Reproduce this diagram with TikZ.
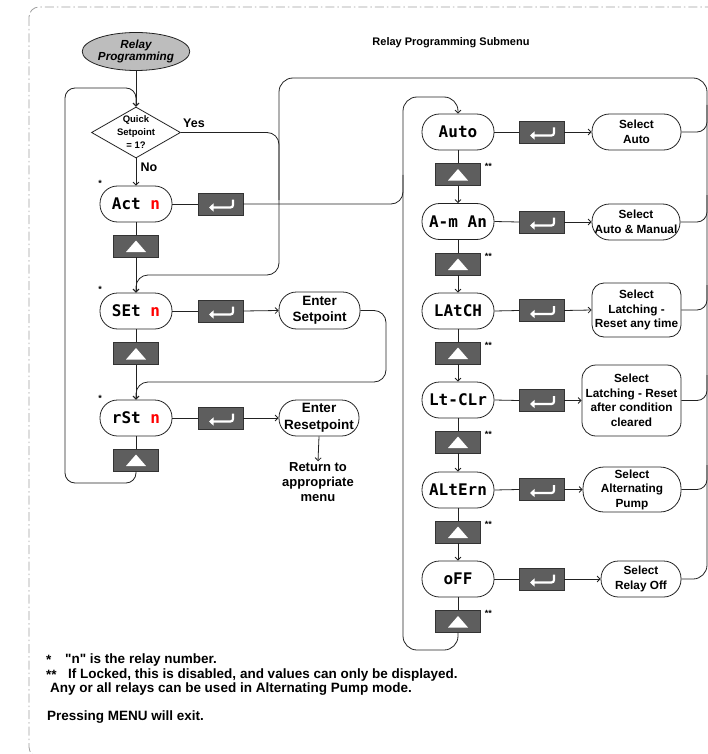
\documentclass[tikz,border=0pt]{standalone}
\usepackage{fontspec}
\setmainfont{Liberation Sans}
\newfontfamily\dispfont{DejaVu Sans Mono}
\usetikzlibrary{arrows.meta,shapes.geometric,calc}
\definecolor{btngray}{HTML}{5E5E5E}
\definecolor{linec}{HTML}{222222}
\definecolor{brd}{HTML}{A0A0A0}
\definecolor{ellg}{HTML}{BDBDBD}
\tikzset{
 ln/.style={draw=linec, line width=0.8pt},
 arr/.style={ln, -{Straight Barb[length=3pt,width=6pt]}},
 disp/.style={draw=linec, line width=0.8pt, rectangle, rounded corners=17.5pt, minimum width=72pt, minimum height=36pt, inner sep=0pt, font=\dispfont\bfseries\fontsize{16}{18}\selectfont},
 btn/.style={draw=black!80, fill=btngray, minimum width=45pt, minimum height=22pt, inner sep=0pt},
 upbtn/.style={btn, path picture={\fill[white] ([xshift=-10pt,yshift=-6pt]path picture bounding box.center) -- ++(20pt,0pt) -- ++(-10pt,11.5pt) -- cycle;}},
 entbtn/.style={btn, path picture={\draw[white, line width=2.2pt, rounded corners=2.5pt, -{Triangle[length=4.5pt,width=8pt]}] ([xshift=12.5pt,yshift=4.5pt]path picture bounding box.center) -- ++(0pt,-8pt) -- ++(-24pt,0pt);}},
 sel/.style={draw=linec, line width=0.8pt, rectangle, rounded corners=17.5pt, minimum height=36pt, inner sep=1pt, align=center, font=\bfseries\fontsize{11.8}{14.5}\selectfont},
 entr/.style={sel, font=\bfseries\fontsize{13.5}{16.5}\selectfont},
 lbl/.style={font=\bfseries\fontsize{12.5}{14}\selectfont, inner sep=0pt},
 stf/.style={font=\bfseries\fontsize{9}{10}\selectfont, inner sep=0pt},
 fn/.style={font=\bfseries\fontsize{13.5}{15}\selectfont, inner sep=0pt, anchor=west},
}
\begin{document}
\begin{tikzpicture}[x=1pt,y=-1pt]
\useasboundingbox (0,0) rectangle (708,754);
\draw[brd, line width=0.8pt, dash pattern=on 9pt off 3pt on 1.5pt off 3pt, rounded corners=10pt] (29,7) rectangle (722,757);

\node[font=\bfseries\fontsize{11}{13}\selectfont] (title) at (451,43) {Relay Programming Submenu};

% left column
\node[ellipse, draw=linec, line width=0.8pt, fill=ellg, minimum width=107pt, minimum height=38pt, inner sep=0pt, align=center, font=\bfseries\itshape\fontsize{11.7}{12.5}\selectfont] (rp) at (136,51.5) {Relay\\Programming};
\node[diamond, draw=linec, line width=0.8pt, minimum width=89pt, minimum height=51pt, inner sep=0pt] (q) at (136,132.5) {};
\node[align=center, inner sep=0pt, font=\bfseries\fontsize{9.5}{13}\selectfont] (qt) at (136,132) {Quick\\Setpoint\\= 1?};
\node[lbl] (yes) at (194,123) {Yes};
\node[lbl] (no) at (149,167) {No};

\node[disp] (act) at (136,204) {Act \textcolor{red}{n}};
\node[entbtn] (e1) at (220.5,204) {};
\node[upbtn] (u1) at (136,246) {};
\node[disp] (set) at (136,311) {SEt \textcolor{red}{n}};
\node[entbtn] (e2) at (220.5,311) {};
\node[entr, minimum width=81pt, minimum height=37pt] (es) at (319.5,310.5) {Enter\\Setpoint};
\node[upbtn] (u2) at (136,353.5) {};
\node[disp] (rst) at (136,418) {rSt \textcolor{red}{n}};
\node[entbtn] (e3) at (220.5,418) {};
\node[entr, minimum width=80pt] (er) at (319,418) {Enter\\Resetpoint};
\node[upbtn] (u3) at (136,460) {};
\node[align=center, inner sep=1pt, font=\bfseries\fontsize{13}{15}\selectfont] (ret) at (318,482) {Return to\\appropriate\\menu};

\node[stf] (st1) at (100,183) {*};
\node[stf] (st2) at (100,289) {*};
\node[stf] (st3) at (100,398) {*};

% right column
\node[disp] (auto) at (458,132) {Auto};
\node[entbtn] (e4) at (541.5,132) {};
\node[sel, minimum width=89pt] (s1) at (636.5,132) {Select\\Auto};
\node[upbtn] (u4) at (458,174.5) {};
\node[disp] (am) at (458,221.5) {A-m An};
\node[entbtn] (e5) at (541.5,222) {};
\node[sel, minimum width=88pt] (s2) at (636,222) {Select\\Auto \& Manual};
\node[upbtn] (u5) at (458,264) {};
\node[disp] (latch) at (458,311) {LAtCH};
\node[entbtn] (e6) at (541.5,310.5) {};
\node[sel, rounded corners=12pt, minimum width=89pt, minimum height=54pt] (s3) at (636.5,310) {Select\\Latching -\\Reset any time};
\node[upbtn] (u6) at (458,353) {};
\node[disp] (ltclr) at (458,400) {Lt-CLr};
\node[entbtn] (e7) at (541.5,400.5) {};
\node[sel, rounded corners=14pt, minimum width=99pt, minimum height=71pt] (s4) at (631.5,400.5) {Select\\Latching - Reset\\after condition\\cleared};
\node[upbtn] (u7) at (458,442) {};
\node[disp] (alt) at (458,490) {ALtErn};
\node[entbtn] (e8) at (541.5,489.5) {};
\node[sel, rounded corners=21pt, minimum width=98pt, minimum height=45pt] (s5) at (632,489.5) {Select\\Alternating\\Pump};
\node[upbtn] (u8) at (458,532) {};
\node[disp] (off) at (458,579) {oFF};
\node[entbtn] (e9) at (541.5,579) {};
\node[sel, minimum width=80pt] (s6) at (641,579) {Select\\Relay Off};
\node[upbtn] (u9) at (458,621.5) {};

\foreach \u in {u4,u5,u6,u7,u8,u9}{
  \node[stf, anchor=north west] (ds\u) at ($(\u.north east)+(4,0)$) {**};
}

% footnotes
\node[fn] (f1a) at (46,660) {*};
\node[fn] (f1b) at (65,660) {{\addfontfeature{Ligatures=TeXOff}"n"} is the relay number.};
\node[fn] (f2a) at (46,675) {**};
\node[fn] (f2b) at (68,675) {If Locked, this is disabled, and values can only be displayed.};
\node[fn] (f3) at (50,689) {Any or all relays can be used in Alternating Pump mode.};
\node[fn] (f4) at (47,717) {Pressing MENU will exit.};

% connectors left
\draw[arr] (rp.south) -- (q.north);
\draw[arr] (q.south) -- (act.north);
\draw[ln] (act.east) -- (e1.west);
\draw[ln, rounded corners=12pt] (e1.east) -| (403,175);
\draw[ln] (act.south) -- (u1.north);
\draw[arr] (u1.south) -- (set.north);
\draw[arr, rounded corners=12pt] (q.east) -| (279,275) -| (set.north);
\draw[ln] (set.east) -- (e2.west);
\draw[arr] (e2.east) -- (es.west);
\draw[arr, rounded corners=12pt] (es.east) -| (386,382) -| (rst.north);
\draw[ln] (set.south) -- (u2.north);
\draw[arr] (u2.south) -- (rst.north);
\draw[ln] (rst.east) -- (e3.west);
\draw[arr] (e3.east) -- (er.west);
\draw[arr] (er.south) -- (ret.north);
\draw[ln] (rst.south) -- (u3.north);
\draw[arr, rounded corners=10pt] (u3.south) |- (65,483) |- (136,88) -- (q.north);

% connectors right
\foreach \d/\e/\s in {auto/e4/s1, am/e5/s2, latch/e6/s3, ltclr/e7/s4, alt/e8/s5, off/e9/s6}{
  \draw[ln] (\d.east) -- (\e.west);
  \draw[arr] (\e.east) -- (\s.west);
}
\foreach \d/\u/\n in {auto/u4/am, am/u5/latch, latch/u6/ltclr, ltclr/u7/alt, alt/u8/off}{
  \draw[ln] (\d.south) -- (\u.north);
  \draw[arr] (\u.south) -- (\n.north);
}
\draw[ln] (off.south) -- (u9.north);
\draw[arr, rounded corners=14pt] (u9.south) |- (403,650) -- (403,97) -| (auto.north);
\draw[ln, rounded corners=14pt] (s6.east) -| (707,78) -| (279,200);
\foreach \s/\y in {s1/105, s2/195, s3/285, s4/375, s5/465}{
  \draw[ln, rounded corners=10pt] (\s.east) -| (707,\y);
}
\end{tikzpicture}
\end{document}
